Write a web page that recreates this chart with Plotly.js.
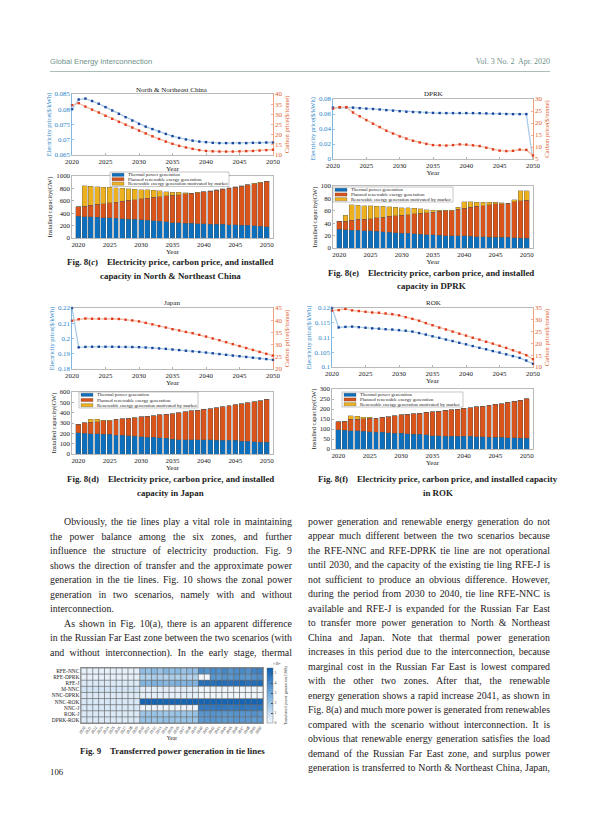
<!DOCTYPE html>
<html><head><meta charset="utf-8">
<script src="https://cdn.plot.ly/plotly-3.0.1.min.js"></script>
<style>
html,body{margin:0;padding:0;background:#fff;}
#page{position:relative;width:600px;height:814px;overflow:hidden;}
#plot{position:absolute;left:0;top:0;width:600px;height:814px;}
#txt{position:absolute;left:0;top:0;width:600px;height:814px;pointer-events:none;}
.ln{position:absolute;height:12px;line-height:12px;font-family:'Liberation Serif','Times New Roman',serif;font-size:9.9px;color:#1e1a1b;white-space:nowrap;}
.hd{position:absolute;height:10px;line-height:10px;font-size:7.6px;color:#6f918a;white-space:nowrap;}
</style></head><body>
<div id="page"><div id="plot"></div><div id="txt"></div></div>
<script>
// ---------------- DATA ----------------
const years = [2020,2021,2022,2023,2024,2025,2026,2027,2028,2029,2030,2031,2032,2033,2034,2035,2036,2037,2038,2039,2040,2041,2042,2043,2044,2045,2046,2047,2048,2049,2050];
const tickYears = [2020,2025,2030,2035,2040,2045,2050];
const seriesNames = ['Thermal power generation','Planned renewable energy generation','Renewable energy generation motivated by market'];

// North & Northeast China
const nncElec = [0.0800,0.0832,0.0835,0.0827,0.0818,0.0807,0.0796,0.0785,0.0774,0.0763,0.0752,0.0743,0.0735,0.0727,0.0719,0.0712,0.0706,0.0701,0.0697,0.0694,0.0692,0.0690,0.0689,0.0689,0.0689,0.0689,0.0689,0.0690,0.0690,0.0691,0.0691];
const nncCarbon = [34.5,35.5,33.8,32.3,30.9,29.3,27.8,26.3,24.9,23.5,22.0,20.6,19.2,17.9,16.6,15.5,14.5,13.7,13.0,12.4,12.0,11.8,11.7,11.7,11.7,11.8,11.9,12.0,12.2,12.4,12.6];
const nncThermal = [350,345,342,335,328,325,318,312,306,300,292,285,279,272,262,250,244,240,236,232,228,225,222,219,216,213,208,204,198,190,183];
const nncPlanned = [155,165,183,210,227,240,262,283,299,320,340,360,376,396,418,440,456,470,482,498,517,533,550,569,587,605,628,652,678,703,729];
const nncMarket = [0,330,310,285,265,250,228,205,190,168,150,130,113,92,70,50,35,20,7,5,5,4,6,7,7,7,7,6,6,5,6];

// DPRK
const dprkElec = [0.0685,0.0688,0.0688,0.0685,0.0678,0.0672,0.0667,0.0660,0.0652,0.0645,0.0638,0.0630,0.0626,0.0622,0.0618,0.0615,0.0613,0.0612,0.0612,0.0612,0.0612,0.0612,0.0611,0.0608,0.0605,0.0603,0.0600,0.0598,0.0598,0.0599,-0.002];
const dprkCarbon = [26.0,26.6,26.6,24.4,22.8,21.2,19.7,18.3,16.8,15.6,14.4,13.5,12.6,11.9,11.3,10.8,10.7,10.6,10.8,11.1,11.0,10.7,10.4,9.7,9.0,8.5,8.3,8.4,8.9,8.8,6.5];
const dprkThermal = [30,29.5,29,28.5,28,27.5,27,26,25.5,25,24,23.5,23,22,21.5,21,20.5,20,20,20,19.5,19,18.5,18,17.5,17.5,17,17,16.5,16,15.5];
const dprkPlanned = [13,13.5,16,17.5,18.5,19.5,22,24,25.5,27,29,30.5,32,34,35.5,37,38.5,40,40,42.5,44.5,47,48.5,50,52.5,53.5,54.5,55,58.5,60,61.5];
const dprkMarket = [0,10,25,23,22,21,18.5,17,15.5,14,12,11,9,7,5,3,1.5,0.5,0.5,3.5,11,9,7,6,3.5,2.5,1.5,0,3,16,15];

// Japan
const jpElec = [0.2200,0.1942,0.1945,0.1946,0.1946,0.1946,0.1946,0.1945,0.1945,0.1944,0.1943,0.1941,0.1938,0.1935,0.1932,0.1928,0.1924,0.1920,0.1916,0.1912,0.1908,0.1903,0.1898,0.1893,0.1888,0.1884,0.1879,0.1874,0.1869,0.1865,0.1860];
const jpCarbon = [39.8,40.4,40.7,40.6,40.6,40.6,40.6,40.5,40.2,39.9,39.5,38.9,38.3,37.6,37.0,36.3,35.8,35.2,34.7,34.0,33.3,32.5,31.8,31.0,30.2,29.4,28.6,27.8,27.0,26.2,25.5];
const jpThermal = [205,199,196,196,190,189,183,180,176,172,167,163,160,155,151,141,140,139,138,138,138,136,135,133,132,131,125,122,119,116,112];
const jpPlanned = [84,103,112,115,134,135,151,163,170,181,192,203,212,224,234,250,261,268,279,285,295,304,314,323,333,344,359,372,385,397,418];
const jpMarket = [0,2,26,23,3,2,0,0,0,0,0,0,0,0,0,0,0,0,0,0,0,0,0,0,0,0,0,0,0,0,0];

// ROK
const rokElec = [0.1200,0.1134,0.1136,0.1137,0.1135,0.1133,0.1131,0.1130,0.1128,0.1127,0.1125,0.1123,0.1120,0.1115,0.1110,0.1104,0.1099,0.1093,0.1088,0.1082,0.1077,0.1071,0.1065,0.1060,0.1054,0.1049,0.1043,0.1037,0.1031,0.1022,0.1011];
const rokCarbon = [33.9,34.1,34.6,34.0,33.7,33.4,33.1,33.0,32.7,32.4,31.9,31.1,30.4,29.6,28.6,27.7,26.7,25.9,25.0,24.1,23.3,22.4,21.6,20.7,19.9,19.0,18.1,17.1,16.1,15.0,13.3];
const rokThermal = [97,93,92,91,88,87,85,84,82,80,78,76,75,73,72,67,66,65,64,64,63,63,62,61,60,59,58,57,56,55,53];
const rokPlanned = [40,47,58,59,64,66,70,74,80,87,94,97,102,107,111,120,124,128,133,136,140,144,150,154,160,166,169,176,182,188,199];
const rokMarket = [0,0,17,13,8,5,0,0,0,0,0,0,0,0,0,0,0,0,0,0,0,0,0,0,0,0,0,0,0,0,0];

// Fig. 9 tie lines (x10^4 GWh)
const tieLines = ['RFE-NNC','RFE-DPRK','RFE-J','M-NNC','NNC-DPRK','NNC-ROK','NNC-J','ROK-J','DPRK-ROK'];
const tRFE_NNC  = [0.3,0.3,0.3,0.3,0.3,0.3,0.3,0.3,0.3,0.3,2.3,2.1,2.4,2.0,2.5,2.2,2.4,2.0,2.3,2.2,3.9,3.6,4.0,3.8,4.1,3.7,3.9,4.0,3.8,4.2,4.3];
const tRFE_DPRK = [0.25,0.25,0.25,0.25,0.25,0.25,0.25,0.25,0.25,0.25,1.5,1.4,1.6,1.5,1.4,1.6,1.5,1.7,1.4,1.5,0,0,3.6,3.4,3.7,3.5,3.8,3.6,3.5,3.7,3.9];
const tRFE_J    = [0.5,0.5,0.5,0.5,0.5,0.5,0.5,0.5,0.5,0.5,2.6,2.5,2.7,2.6,2.5,2.6,2.8,2.6,2.7,2.6,4.8,4.9,4.8,5.0,4.9,4.8,4.9,5.0,4.8,4.9,5.0];
const tM_NNC    = [0.7,0.7,0.7,0.7,0.7,0.7,0.7,0.7,0.7,0.7,0.35,0.35,0.35,0.35,0.35,0.35,0.35,0.35,0.35,0.35,0.05,0.05,0.05,0.05,0.05,0.05,0.05,0.05,0.05,0.05,0.05];
const tNNC_DPRK = [0.5,0.5,0.5,0.5,0.5,0.5,0.5,0.5,0.5,0.5,0.3,0.3,0.3,0.3,0.3,0.3,0.3,0.3,0.3,0.3,0.05,0.05,0.05,0.05,0.05,0.05,0.05,0.05,0.05,0.05,0.05];
const tNNC_ROK  = [0.6,0.6,0.6,0.6,0.6,0.6,0.6,0.6,0.6,0.6,5.2,5.2,5.2,5.2,5.2,5.2,5.2,5.2,5.2,5.2,5.2,5.2,5.2,5.2,5.2,5.2,5.2,5.2,5.2,5.2,5.2];
const tNNC_J    = [0.6,0.6,0.6,0.6,0.6,0.6,0.6,0.6,0.6,0.6,0.1,0.1,0.1,0.1,0.1,0.1,0.1,0.1,0.1,0.1,4.5,4.5,4.5,4.6,4.5,4.4,4.5,4.6,4.5,4.5,4.6];
const tROK_J    = [0.5,0.5,0.5,0.5,0.5,0.5,0.5,0.5,0.5,0.5,2.0,2.0,2.1,2.0,1.9,2.0,2.1,2.0,2.0,2.1,3.6,3.6,3.7,3.6,3.5,3.6,3.7,3.6,3.6,3.7,3.6];
const tDPRK_ROK = [0.5,0.5,0.5,0.5,0.5,0.5,0.5,0.5,0.5,0.5,2.1,2.1,2.0,2.1,2.2,2.1,2.0,2.1,2.1,2.0,3.5,3.5,3.6,3.5,3.4,3.5,3.6,3.5,3.5,3.4,3.5];

// ---------------- STYLE ----------------
const SERIF = "'Liberation Serif','Times New Roman',serif";
const C_BLUE = '#0b6fbe', C_ORANGE = '#d9541a', C_YELLOW = '#edb120';
const ELEC_LINE = '#a9cbe9', ELEC_MARK = '#17459c', CARB_LINE = '#f5bba3', CARB_MARK = '#e2381c';
const AX_BLUE = '#2d86c8', AX_ORANGE = '#e0622f';
const px = x => x/600, py = y => 1 - y/814;
const xdom = (a,b) => [px(a), px(b)];
const ydom = (t,b) => [py(b), py(t)];

function xAx(d, anchor, range) {
  return {domain:d, anchor:anchor, range:range, showline:true, mirror:true, linecolor:'#8a8a8a', linewidth:0.6,
    ticks:'inside', ticklen:2, tickwidth:0.5, tickcolor:'#666', tickmode:'array', tickvals:tickYears, ticktext:tickYears.map(String),
    tickfont:{family:SERIF, size:6.9, color:'#222'}, showgrid:false, zeroline:false,
    title:{text:'Year', font:{family:SERIF, size:7.1, color:'#222'}, standoff:0}};
}
function yAx(d, anchor, range, vals, txt, color, title, extra) {
  const o = {domain:d, anchor:anchor, range:range, showline:true, linecolor:color==='#222'?'#8a8a8a':color, linewidth:0.6,
    ticks:'inside', ticklen:2, tickwidth:0.5, tickcolor:color==='#222'?'#666':color, tickmode:'array', tickvals:vals, ticktext:txt,
    tickfont:{family:SERIF, size:6.9, color:color}, showgrid:false, zeroline:false,
    title:{text:title, font:{family:SERIF, size:6.5, color:color}, standoff:2}};
  return Object.assign(o, extra||{});
}

const traces = [];
function lines(xa, yaL, yaR, elec, carb) {
  traces.push({type:'scatter', mode:'lines+markers', x:years, y:elec, xaxis:xa, yaxis:yaL, cliponaxis:false, showlegend:false,
    line:{color:ELEC_LINE, width:1.3}, marker:{symbol:'square', size:2.4, color:ELEC_MARK}});
  traces.push({type:'scatter', mode:'lines+markers', x:years, y:carb, xaxis:xa, yaxis:yaR, cliponaxis:false, showlegend:false,
    line:{color:CARB_LINE, width:1.3}, marker:{symbol:'square', size:2.4, color:CARB_MARK}});
}
function bars(xa, ya, th, pl, mk) {
  [[th,C_BLUE],[pl,C_ORANGE],[mk,C_YELLOW]].forEach((s,i)=>{
    traces.push({type:'bar', x:years, y:s[0], name:seriesNames[i], xaxis:xa, yaxis:ya, width:0.78, showlegend:false,
      marker:{color:s[1], line:{color:'#555', width:0.35}}});
  });
}
lines('x','y','y2', nncElec, nncCarbon);
bars('x2','y3', nncThermal, nncPlanned, nncMarket);
lines('x3','y4','y5', dprkElec, dprkCarbon);
bars('x4','y6', dprkThermal, dprkPlanned, dprkMarket);
lines('x5','y7','y8', jpElec, jpCarbon);
bars('x6','y9', jpThermal, jpPlanned, jpMarket);
lines('x7','y10','y11', rokElec, rokCarbon);
bars('x8','y12', rokThermal, rokPlanned, rokMarket);

traces.push({type:'heatmap', x:years, y:tieLines,
  z:[tRFE_NNC,tRFE_DPRK,tRFE_J,tM_NNC,tNNC_DPRK,tNNC_ROK,tNNC_J,tROK_J,tDPRK_ROK],
  xaxis:'x9', yaxis:'y13', zmin:0, zmax:5.5, zsmooth:false,
  colorscale:[[0,'#f2f8fd'],[0.12,'#d5e6f6'],[0.45,'#86b8e1'],[1,'#0a5cb0']],
  colorbar:{x:px(267), xanchor:'left', thickness:6, thicknessmode:'pixels', len:55/814, lenmode:'fraction',
    y:py(695.5), yanchor:'middle', outlinewidth:0.5, outlinecolor:'#777', tickmode:'array', tickvals:[0,1,2,3,4,5],
    ticks:'inside', ticklen:1.5, tickfont:{family:SERIF, size:3.8, color:'#333'}, xpad:0, ypad:0,
    title:{text:'Transferred power generation(GWh)', side:'right', font:{family:SERIF, size:4.0, color:'#333'}}}
});

const L = {
  width:600, height:814, margin:{l:0,r:0,t:0,b:0}, paper_bgcolor:'#fff', plot_bgcolor:'#fff',
  barmode:'stack', bargap:0.2, showlegend:false, font:{family:SERIF, color:'#222'},
  // NNC
  xaxis: xAx(xdom(72,273),'y',[2020,2050]),
  yaxis: yAx(ydom(94,155),'x',[0.065,0.085],[0.065,0.07,0.075,0.08,0.085],['0.065','0.07','0.075','0.08','0.085'],AX_BLUE,'Electricity price($/kWh)'),
  yaxis2: yAx(ydom(94,155),'x',[10,40],[10,15,20,25,30,35,40],['10','15','20','25','30','35','40'],AX_ORANGE,'Carbon price($/tonne)',{overlaying:'y', side:'right'}),
  xaxis2: xAx(xdom(72,273),'y3',[2019,2051]),
  yaxis3: yAx(ydom(176,238),'x2',[0,1000],[0,200,400,600,800,1000],['0','200','400','600','800','1000'],'#222','Installed capacity(GW)',{mirror:true}),
  // DPRK
  xaxis3: xAx(xdom(333,533),'y4',[2020,2050]),
  yaxis4: yAx(ydom(99,159),'x3',[0,0.08],[0,0.02,0.04,0.06,0.08],['0','0.02','0.04','0.06','0.08'],AX_BLUE,'Electricity price($/kWh)'),
  yaxis5: yAx(ydom(99,159),'x3',[5,30],[5,10,15,20,25,30],['5','10','15','20','25','30'],AX_ORANGE,'Carbon price($/tonne)',{overlaying:'y4', side:'right'}),
  xaxis4: xAx(xdom(333,533),'y6',[2019,2051]),
  yaxis6: yAx(ydom(186,248),'x4',[0,100],[0,20,40,60,80,100],['0','20','40','60','80','100'],'#222','Installed capacity(GW)',{mirror:true}),
  // Japan
  xaxis5: xAx(xdom(72,273),'y7',[2020,2050]),
  yaxis7: yAx(ydom(308,369),'x5',[0.18,0.22],[0.18,0.19,0.2,0.21,0.22],['0.18','0.19','0.2','0.21','0.22'],AX_BLUE,'Electricity price($/kWh)'),
  yaxis8: yAx(ydom(308,369),'x5',[20,45],[20,25,30,35,40,45],['20','25','30','35','40','45'],AX_ORANGE,'Carbon price($/tonne)',{overlaying:'y7', side:'right'}),
  xaxis6: xAx(xdom(72,273),'y9',[2019,2051]),
  yaxis9: yAx(ydom(392,454),'x6',[0,600],[0,100,200,300,400,500,600],['0','100','200','300','400','500','600'],'#222','Installed capacity(GW)',{mirror:true}),
  // ROK
  xaxis7: xAx(xdom(332,533),'y10',[2020,2050]),
  yaxis10: yAx(ydom(308,367),'x7',[0.1,0.12],[0.1,0.105,0.11,0.115,0.12],['0.1','0.105','0.11','0.115','0.12'],AX_BLUE,'Electricity price($/kWh)'),
  yaxis11: yAx(ydom(308,367),'x7',[10,35],[10,15,20,25,30,35],['10','15','20','25','30','35'],AX_ORANGE,'Carbon price($/tonne)',{overlaying:'y10', side:'right'}),
  xaxis8: xAx(xdom(332,533),'y12',[2019,2051]),
  yaxis12: yAx(ydom(389,449),'x8',[0,300],[0,50,100,150,200,250,300],['0','50','100','150','200','250','300'],'#222','Installed capacity(GW)',{mirror:true}),
  // Fig 9 heatmap
  xaxis9: {domain:xdom(81,263), anchor:'y13', range:[2019.5,2050.5], showline:true, mirror:true, linecolor:'#555', linewidth:0.6, ticks:'',
    tickmode:'array', tickvals:years, ticktext:years.map(String), tickangle:-55, tickfont:{family:SERIF, size:4.1, color:'#222'},
    title:{text:'Year', font:{family:SERIF, size:5.6, color:'#222'}, standoff:1}},
  yaxis13: {domain:ydom(668,723), anchor:'x9', autorange:'reversed', showline:true, mirror:true, linecolor:'#555', linewidth:0.6,
    ticks:'', tickfont:{family:SERIF, size:5.4, color:'#222'}},
  shapes:[], annotations:[]
};

// heatmap cell grid (cell boundaries between the categories)
for (let k = 0; k <= years.length; k++) {
  L.shapes.push({type:'line', xref:'x9', yref:'y13 domain', x0:years[0]-0.5+k, x1:years[0]-0.5+k, y0:0, y1:1,
    line:{color:'#6a6a6a', width:0.7}, layer:'above'});
}
for (let j = 0; j <= tieLines.length; j++) {
  L.shapes.push({type:'line', xref:'x9 domain', yref:'y13 domain', x0:0, x1:1, y0:j/tieLines.length, y1:j/tieLines.length,
    line:{color:'#6a6a6a', width:0.7}, layer:'above'});
}

// manual compact legends built from series names
function legendBox(x0, y0, w, h) {
  L.shapes.push({type:'rect', xref:'paper', yref:'paper', x0:px(x0), x1:px(x0+w), y0:py(y0+h), y1:py(y0),
    fillcolor:'#fff', line:{color:'#8c8c8c', width:0.5}, layer:'above'});
  const cols = [C_BLUE, C_ORANGE, C_YELLOW];
  seriesNames.forEach((n,i)=>{
    const yc = y0 + 2.8 + i*(h-5.6)/2;
    L.shapes.push({type:'rect', xref:'paper', yref:'paper', x0:px(x0+2), x1:px(x0+14), y0:py(yc+1.6), y1:py(yc-1.6),
      fillcolor:cols[i], line:{color:'#444', width:0.3}, layer:'above'});
    L.annotations.push({xref:'paper', yref:'paper', x:px(x0+16), y:py(yc), xanchor:'left', yanchor:'middle', showarrow:false,
      text:n, font:{family:SERIF, size:4.9, color:'#222'}});
  });
}
legendBox(110,172,119,14.5);
legendBox(333,187,120,15);
legendBox(79,392,119,16);
legendBox(342,392,121,15);

function ann(x, y, text, size, extra) {
  L.annotations.push(Object.assign({xref:'paper', yref:'paper', x:px(x), y:py(y), xanchor:'center', yanchor:'middle',
    showarrow:false, text:text, font:{family:SERIF, size:size, color:'#222'}}, extra||{}));
}
// chart titles
ann(172, 89.5, 'North & Northeast China', 7);
ann(433, 93.5, 'DPRK', 7);
ann(172, 303, 'Japan', 7);
ann(433, 303, 'ROK', 7);
ann(271, 664, '\u00d710\u2074', 3.8, {xanchor:'left'});
// captions
const SP = '\u00a0\u00a0\u00a0\u00a0';
const CF = 8.9;
ann(170, 262, '<b>Fig. 8(<i>c</i>)'+SP+'Electricity price, carbon price, and installed</b>', CF);
ann(170, 275.5, '<b>capacity in North & Northeast China</b>', CF);
ann(431, 273, '<b>Fig. 8(e)'+SP+'Electricity price, carbon price, and installed</b>', CF);
ann(431, 286.5, '<b>capacity in DPRK</b>', CF);
ann(171, 479, '<b>Fig. 8(d)'+SP+'Electricity price, carbon price, and installed</b>', CF);
ann(171, 492.5, '<b>capacity in Japan</b>', CF);
ann(438, 479, '<b>Fig. 8(f)'+SP+'Electricity price, carbon price, and installed capacity</b>', CF);
ann(438, 492.5, '<b>in ROK</b>', CF);
ann(172, 751, '<b>Fig. 9'+SP+'Transferred power generation in tie lines</b>', CF);

Plotly.newPlot('plot', traces, L, {staticPlot:true, displayModeBar:false});

// ---------------- PAGE TEXT ----------------
const txt = document.getElementById('txt');
function addDiv(cls, left, top, text, style) {
  const d = document.createElement('div'); d.className = cls;
  d.style.left = left+'px'; d.style.top = top+'px';
  if (style) Object.assign(d.style, style);
  d.textContent = text; txt.appendChild(d); return d;
}
addDiv('hd', 50, 57, 'Global Energy Interconnection', {fontFamily:"'Liberation Sans','DejaVu Sans',sans-serif"});
const vol = addDiv('hd', 0, 57, 'Vol. 3 No. 2  Apr. 2020', {fontFamily:SERIF, whiteSpace:'pre', fontSize:'8px'});
vol.style.left = (550 - vol.getBoundingClientRect().width) + 'px';
addDiv('hd', 50, 70.5, '', {width:'500px', height:'0px', borderTop:'1.3px solid #a8beb7'});
addDiv('ln', 50, 766, '106', {fontSize:'8.8px'});

const leftLines = [
  {t:'Obviously, the tie lines play a vital role in maintaining', ind:true},
  {t:'the power balance among the six zones, and further'},
  {t:'influence the structure of electricity production. Fig. 9'},
  {t:'shows the direction of transfer and the approximate power'},
  {t:'generation in the tie lines. Fig. 10 shows the zonal power'},
  {t:'generation in two scenarios, namely with and without'},
  {t:'interconnection.', last:true},
  {t:'As shown in Fig. 10(a), there is an apparent difference', ind:true},
  {t:'in the Russian Far East zone between the two scenarios (with'},
  {t:'and without interconnection). In the early stage, thermal'}
];
const rightLines = [
  {t:'power generation and renewable energy generation do not'},
  {t:'appear much different between the two scenarios because'},
  {t:'the RFE-NNC and RFE-DPRK tie line are not operational'},
  {t:'until 2030, and the capacity of the existing tie ling RFE-J is'},
  {t:'not sufficient to produce an obvious difference. However,'},
  {t:'during the period from 2030 to 2040, tie line RFE-NNC is'},
  {t:'available and RFE-J is expanded for the Russian Far East'},
  {t:'to transfer more power generation to North & Northeast'},
  {t:'China and Japan. Note that thermal power generation'},
  {t:'increases in this period due to the interconnection, because'},
  {t:'marginal cost in the Russian Far East is lowest compared'},
  {t:'with the other two zones. After that, the renewable'},
  {t:'energy generation shows a rapid increase 2041, as shown in'},
  {t:'Fig. 8(a) and much more power is generated from renewables'},
  {t:'compared with the scenario without interconnection. It is'},
  {t:'obvious that renewable energy generation satisfies the load'},
  {t:'demand of the Russian Far East zone, and surplus power'},
  {t:'generation is transferred to North & Northeast China, Japan,'}
];
function placeLines(lines, x0, w, y0, step) {
  lines.forEach((ln, i) => {
    const ind = ln.ind ? 14 : 0;
    const d = document.createElement('div'); d.className = 'ln';
    d.style.left = (x0+ind)+'px'; d.style.top = (y0 + i*step - 6)+'px';
    const s = document.createElement('span'); s.textContent = ln.t; d.appendChild(s); txt.appendChild(d);
    const target = w - ind, nat = s.getBoundingClientRect().width, n = (ln.t.match(/ /g)||[]).length;
    if (n > 0 && (!ln.last || nat > target)) s.style.wordSpacing = ((target - nat)/n) + 'px';
  });
}
placeLines(leftLines, 50, 242, 522, 14.5);
placeLines(rightLines, 308, 242, 522, 14.47);
</script></body></html>
